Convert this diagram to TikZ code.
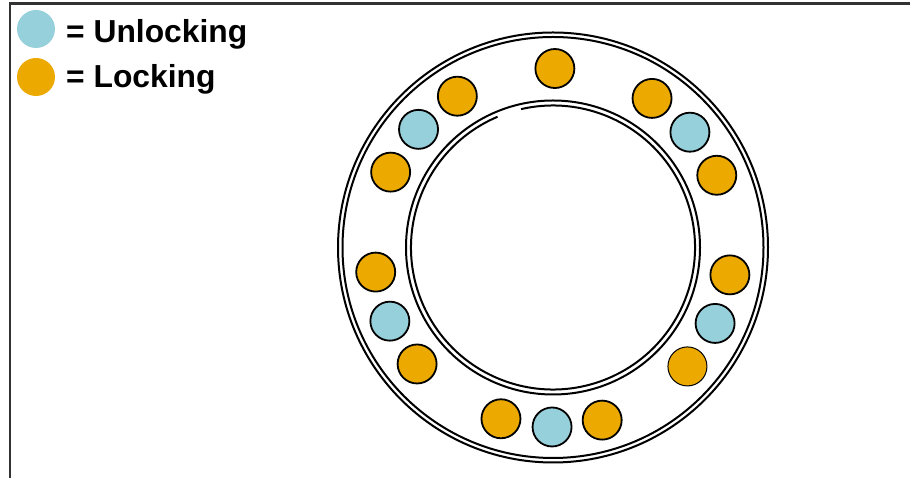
\documentclass[tikz,border=0pt]{standalone}
\usepackage{fontspec}
\setsansfont{Liberation Sans}
\usetikzlibrary{positioning,calc}
\definecolor{lkOrange}{RGB}{236,170,0}
\definecolor{ulBlue}{RGB}{150,208,219}
\definecolor{frGray}{RGB}{50,50,50}
\tikzset{
    ball/.style={circle, draw=black, line width=1.8pt, minimum size=39pt, inner sep=0pt},
    locking/.style={ball, fill=lkOrange},
    unlocking/.style={ball, fill=ulBlue},
    key/.style={circle, minimum size=38pt, inner sep=0pt},
    keytext/.style={anchor=base west, inner sep=0pt, font=\fontsize{31.8}{36}\selectfont\sffamily\bfseries},
    race/.style={line width=2pt},
    frame/.style={line width=2.5pt, color=frGray}
}
\begin{document}
\begin{tikzpicture}[x=1pt, y=1pt]
  \useasboundingbox (0,0) rectangle (910,478);
  \draw[frame] (10,0) -- (10,474.5) -- (910,474.5);

  % Legend
  \node[key, fill=ulBlue] (keyU) at (36,449) {};
  \node[key, fill=lkOrange] (keyL) at (36,401) {};
  \node[keytext] (txtU) at (66,435.5) {= Unlocking};
  \node[keytext] (txtL) at (66,390) {= Locking};

  % Races
  \coordinate (ctr) at (553,230.5);
  \draw[race] (ctr) circle[radius=215pt];
  \draw[race] (ctr) circle[radius=210.5pt];
  \draw[race] (ctr) circle[radius=147pt];
  \draw[race] ($(ctr)+(113:142pt)$) arc[start angle=113, end angle=463, radius=142pt];

  % Balls
  \begin{scope}[shift={(ctr)}]
    \node[locking] (lk1) at (89.4:179pt) {};
    \node[locking] (lk2) at (122.3:179pt) {};
    \node[locking] (lk3) at (56.4:179pt) {};
    \node[unlocking] (ul1) at (138.7:179pt) {};
    \node[unlocking] (ul2) at (40.1:179pt) {};
    \node[locking] (lk4) at (155.1:179pt) {};
    \node[locking] (lk5) at (23.8:179pt) {};
    \node[locking] (lk6) at (187.9:179pt) {};
    \node[locking] (lk7) at (-8.8:179pt) {};
    \node[unlocking] (ul3) at (204.3:179pt) {};
    \node[unlocking] (ul4) at (-25.1:179pt) {};
    \node[locking] (lk8) at (220.6:179pt) {};
    \node[locking, line width=1pt] (lk9) at (-41.5:179.5pt) {};
    \node[locking] (lk10) at (253.1:179pt) {};
    \node[unlocking] (ul5) at (269.7:179.5pt) {};
    \node[locking] (lk11) at (285.9:179.5pt) {};
  \end{scope}
\end{tikzpicture}
\end{document}
